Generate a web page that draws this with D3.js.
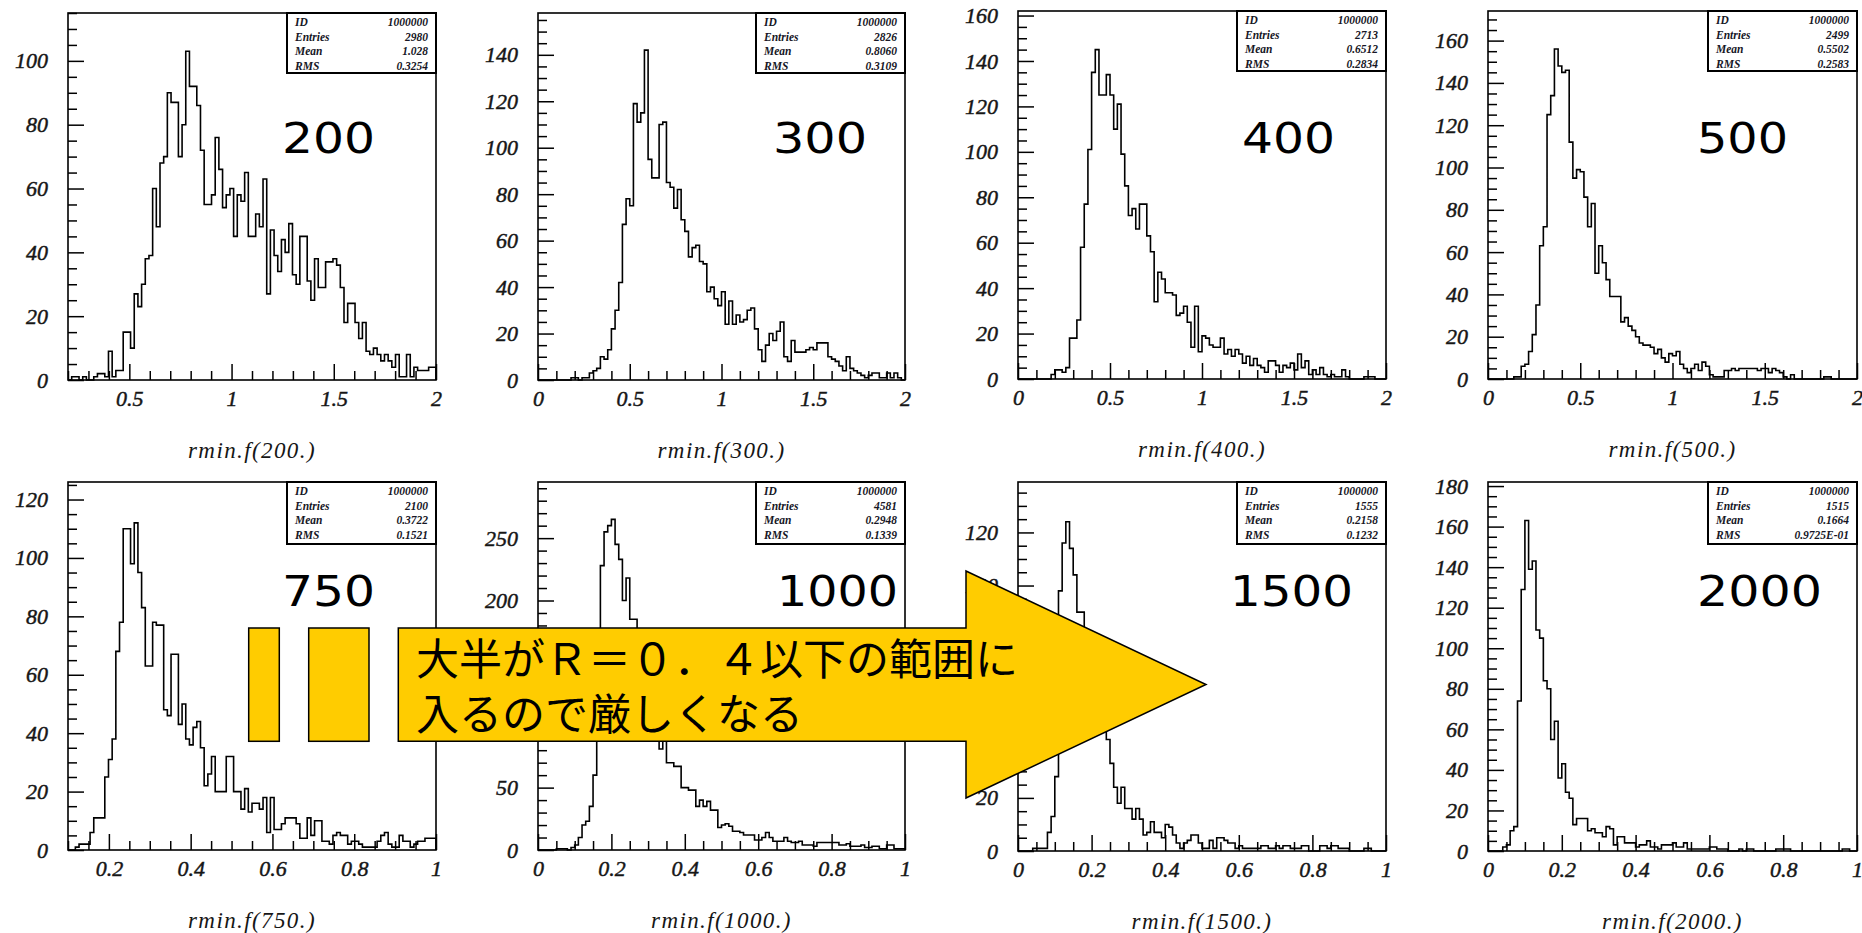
<!DOCTYPE html>
<html>
<head>
<meta charset="utf-8">
<script src="https://cdn.jsdelivr.net/npm/d3@7"></script>
<style>
  body { margin: 0; background: #fff; }
  .tick text { font-family: "Liberation Serif", serif; font-style: italic; font-size: 22px; fill: #161616; stroke: #161616; stroke-width: 0.45px; }
  .tick line { stroke: #000; stroke-width: 1.5; }
  .stat { font-family: "Liberation Serif", serif; font-style: italic; font-weight: bold; font-size: 11.5px; fill: #161625; }
  .title { font-family: "Liberation Serif", serif; font-style: italic; font-size: 23px; letter-spacing: 1.4px; fill: #161616; }
  .energy { font-family: "DejaVu Sans", sans-serif; font-size: 42px; fill: #000; }
  .note { font-family: "Noto Sans CJK JP", sans-serif; font-size: 43px; fill: #000; }
</style>
</head>
<body>
<div id="chart"></div>
<script>
const width = 1862;
const height = 933;

const energies = [200, 300, 400, 500, 750, 1000, 1500, 2000];
const xDomains = [[0.2, 2], [0, 2], [0, 2], [0, 2], [0.1, 1], [0, 1], [0, 1], [0, 1]];
const yMaxes = [115, 158, 162, 174, 126, 295, 139, 182];

const xTicks = [
    [0.5, 1, 1.5, 2], [0, 0.5, 1, 1.5, 2], [0, 0.5, 1, 1.5, 2], [0, 0.5, 1, 1.5, 2],
    [0.2, 0.4, 0.6, 0.8, 1], [0, 0.2, 0.4, 0.6, 0.8, 1], [0, 0.2, 0.4, 0.6, 0.8, 1], [0, 0.2, 0.4, 0.6, 0.8, 1]
];
const xMinorSteps = [0.1, 0.1, 0.1, 0.1, 0.05, 0.05, 0.05, 0.05];
const yTicks = [
    [0, 20, 40, 60, 80, 100],
    [0, 20, 40, 60, 80, 100, 120, 140],
    [0, 20, 40, 60, 80, 100, 120, 140, 160],
    [0, 20, 40, 60, 80, 100, 120, 140, 160],
    [0, 20, 40, 60, 80, 100, 120],
    [0, 50, 100, 150, 200, 250],
    [0, 20, 40, 60, 80, 100, 120],
    [0, 20, 40, 60, 80, 100, 120, 140, 160, 180]
];
const yMinorSteps = [5, 5, 5, 5, 5, 10, 5, 5];

const statIds = ["1000000", "1000000", "1000000", "1000000", "1000000", "1000000", "1000000", "1000000"];
const statEntries = ["2980", "2826", "2713", "2499", "2100", "4581", "1555", "1515"];
const statMeans = ["1.028", "0.8060", "0.6512", "0.5502", "0.3722", "0.2948", "0.2158", "0.1664"];
const statRms = ["0.3254", "0.3109", "0.2834", "0.2583", "0.1521", "0.1339", "0.1232", "0.9725E-01"];

const counts200 = [0,1,1,0,1,0,0,1,2,2, 1,9,1,3,3,15,15,10,27,23, 30,38,39,60,48,68,70,90,87,87,
    70,80,103,92,92,86,72,55,55,58, 76,66,54,58,60,45,58,56,65,45, 45,52,48,63,27,47,39,34,44,40,
    49,33,30,45,45,31,25,38,29,29, 37,37,38,36,29,18,24,24,18,13, 18,9,8,10,8,6,8,6,4,8,
    1,1,8,1,4,3,3,3,4,4];
const counts300 = [0,0,0,0,0,0,0,0,0,1, 1,0,1,1,3,4,5,10,9,13, 22,30,42,67,78,75,119,111,115,142,
    95,87,87,110,111,85,83,74,82,69, 64,53,57,58,51,50,38,40,35,32, 38,24,34,24,28,25,26,30,31,22,
    13,8,15,20,17,21,25,10,8,17, 12,12,12,13,14,13,16,16,16,10, 9,8,6,4,10,5,4,3,2,1,
    2,3,3,1,1,3,1,3,1,0];
const counts400 = [0,0,0,0,0,0,0,0,0,2, 4,4,3,5,18,18,26,58,77,101, 135,145,125,125,134,125,110,121,99,85,
    72,75,66,77,77,63,56,34,47,44, 38,38,37,28,29,32,25,14,32,12, 19,18,15,14,14,18,11,13,10,13,
    11,7,10,6,9,6,5,3,8,8, 6,3,6,5,7,4,11,5,8,2, 4,2,5,2,1,2,1,1,4,1,
    0,0,0,0,1,1,1,0,0,0];
const counts500 = [0,0,0,0,0,0,0,1,1,6, 7,13,21,35,63,72,125,134,156,148, 145,146,112,95,99,98,86,72,83,50,
    63,55,47,39,39,39,27,29,25,23, 20,17,16,16,15,12,14,10,8,12, 11,13,7,5,3,5,7,4,8,6,
    2,1,1,1,4,4,5,4,5,5, 5,5,5,4,5,5,3,5,4,3, 1,0,2,0,0,0,0,0,0,0,
    0,1,1,0,0,0,0,0,0,0];
const counts750 = [0,0,1,2,2,2,6,11,11,11, 25,31,38,68,78,110,110,98,112,95, 83,63,63,78,77,77,48,46,67,67,
    43,50,38,36,42,44,35,22,26,32, 20,20,20,32,32,20,20,14,21,13, 16,16,14,18,6,18,7,7,9,11,
    11,11,9,4,4,11,5,10,10,3, 3,2,5,6,5,5,2,3,3,2, 1,1,1,1,3,5,6,2,1,1,
    5,3,3,1,2,3,3,4,4,4];
const counts1000 = [0,0,0,0,0,1,1,1,0,2, 4,10,20,23,35,60,160,228,255,260, 265,245,233,200,218,185,185,170,150,130,
    120,100,90,81,95,70,70,67,67,50, 50,48,48,35,40,35,39,32,32,18, 20,21,19,15,15,14,12,12,12,8,
    8,10,14,10,7,7,7,10,7,6, 6,7,4,4,4,3,6,6,6,6, 6,6,4,4,5,3,3,3,4,2,
    2,3,3,1,1,4,4,1,1,1];
const counts1500 = [0,0,0,0,1,1,1,1,7,13, 28,98,116,124,114,104,90,90,80,72, 64,56,50,45,42,33,24,18,24,16,
    16,12,16,12,6,7,11,7,7,5, 10,9,6,3,1,3,4,6,6,3, 1,1,4,1,5,5,4,3,3,1,
    2,1,1,1,1,1,2,2,1,1, 2,1,2,2,1,1,1,2,2,0, 0,0,2,2,1,2,2,1,1,1,
    0,0,0,0,1,1,0,0,0,0];
const counts2000 = [0,0,0,0,2,3,10,12,74,129, 163,139,143,109,105,84,80,55,64,36, 43,29,26,13,16,16,16,10,11,9,
    9,7,12,11,3,7,7,4,4,4, 2,3,3,5,2,2,1,3,3,3, 4,2,2,4,1,1,1,1,1,1,
    2,2,1,1,1,0,0,0,1,0, 1,1,0,0,0,0,0,0,1,1, 1,1,0,0,0,0,0,0,0,0,
    0,0,0,0,0,0,1,1,0,0];
const counts = [counts200, counts300, counts400, counts500, counts750, counts1000, counts1500, counts2000];

const noteLines = ["大半がＲ＝０．４以下の範囲に", "入るので厳しくなる"];

// layout: plot frames [x, y, w, h] and the big energy labels [x, baseline, length]
const frames = [
    [68, 13, 368, 367], [538, 13, 367, 367], [1018, 11, 368, 368], [1488, 11, 369, 368],
    [68, 482, 368, 368], [538, 482, 367, 368], [1018, 482, 368, 369], [1488, 482, 369, 369]
];
const energyLabels = [
    [282, 153, 93], [773, 153, 94], [1242, 153, 93], [1697, 153, 91],
    [282, 606, 93], [777, 606, 121], [1230, 606, 123], [1697, 606, 125]
];

const svg = d3.select("#chart")
    .append("svg")
    .attr("width", width)
    .attr("height", height);

function stepRange(lo, hi, step) {
    const a = Math.ceil(lo / step - 1e-6), b = Math.floor(hi / step + 1e-6);
    return d3.range(a, b + 1).map(k => +(k * step).toFixed(4));
}

energies.forEach(function(energy, i) {
    const [fx, fy, fw, fh] = frames[i];
    const data = counts[i];
    const [x0, x1] = xDomains[i];
    const binW = (x1 - x0) / data.length;

    const x = d3.scaleLinear().domain(xDomains[i]).range([fx, fx + fw]);
    const y = d3.scaleLinear().domain([0, yMaxes[i]]).range([fy + fh, fy]);

    const g = svg.append("g");

    // minor ticks
    const yMinor = stepRange(0, yMaxes[i], yMinorSteps[i]).filter(v => !yTicks[i].includes(v));
    g.append("g")
        .attr("transform", `translate(${fx},0)`)
        .call(d3.axisLeft(y).tickValues(yMinor).tickSizeInner(-9).tickSizeOuter(0).tickFormat(""))
        .call(a => a.select(".domain").remove());
    const xMinor = stepRange(x0, x1, xMinorSteps[i]).filter(v => !xTicks[i].some(t => Math.abs(t - v) < 1e-6));
    g.append("g")
        .attr("transform", `translate(0,${fy + fh})`)
        .call(d3.axisBottom(x).tickValues(xMinor).tickSizeInner(-9).tickSizeOuter(0).tickFormat(""))
        .call(a => a.select(".domain").remove());

    // major ticks with labels
    g.append("g")
        .attr("transform", `translate(${fx},0)`)
        .call(d3.axisLeft(y).tickValues(yTicks[i]).tickSizeInner(-16).tickSizeOuter(0).tickPadding(20)
            .tickFormat(d3.format("d")))
        .call(a => a.select(".domain").remove());
    g.append("g")
        .attr("transform", `translate(0,${fy + fh})`)
        .call(d3.axisBottom(x).tickValues(xTicks[i]).tickSizeInner(-16).tickSizeOuter(0).tickPadding(10)
            .tickFormat(d => String(+d.toFixed(2))))
        .call(a => a.select(".domain").remove());

    // histogram outline
    const pts = [[x0, 0]];
    data.forEach((v, k) => pts.push([x0 + k * binW, v]));
    pts.push([x1, data[data.length - 1]]);
    pts.push([x1, 0]);
    const line = d3.line()
        .x(d => x(d[0]))
        .y(d => y(d[1]))
        .curve(d3.curveStepAfter);
    g.append("path")
        .attr("d", line(pts))
        .attr("fill", "none")
        .attr("stroke", "#000")
        .attr("stroke-width", 1.6);

    // frame
    g.append("rect")
        .attr("x", fx).attr("y", fy)
        .attr("width", fw).attr("height", fh)
        .attr("fill", "none")
        .attr("stroke", "#000")
        .attr("stroke-width", 1.6);

    // stats box
    const bw = 149, bh = i < 4 ? 60 : 62;
    const bx = fx + fw - bw;
    g.append("rect")
        .attr("x", bx).attr("y", fy)
        .attr("width", bw).attr("height", bh)
        .attr("fill", "#fff")
        .attr("stroke", "#000")
        .attr("stroke-width", 2);
    const rows = [["ID", statIds[i]], ["Entries", statEntries[i]], ["Mean", statMeans[i]], ["RMS", statRms[i]]];
    rows.forEach(function(r, k) {
        const ty = fy + 13 + k * 14.5;
        g.append("text").attr("class", "stat").attr("x", bx + 8).attr("y", ty).text(r[0]);
        g.append("text").attr("class", "stat").attr("x", bx + bw - 8).attr("y", ty)
            .attr("text-anchor", "end").text(r[1]);
    });

    // axis title
    g.append("text")
        .attr("class", "title")
        .attr("x", fx + fw / 2)
        .attr("y", fy + fh + 78)
        .attr("text-anchor", "middle")
        .text(`rmin.f(${energy}.)`);

    // big energy label
    const [lx, ly, ll] = energyLabels[i];
    g.append("text")
        .attr("class", "energy")
        .attr("x", lx).attr("y", ly)
        .attr("textLength", ll)
        .attr("lengthAdjust", "spacingAndGlyphs")
        .text(energy);
});

// yellow annotation
const note = svg.append("g")
    .attr("fill", "#ffcc00")
    .attr("stroke", "#000")
    .attr("stroke-width", 1.5);
note.append("rect").attr("x", 248.7).attr("y", 628).attr("width", 30.6).attr("height", 113.3);
note.append("rect").attr("x", 308.7).attr("y", 628).attr("width", 60.3).attr("height", 113.3);
note.append("polygon")
    .attr("points", [[398.3, 628], [966, 628], [966, 571], [1206, 684.5], [966, 798], [966, 741.3], [398.3, 741.3]]
        .map(p => p.join(",")).join(" "));

noteLines.forEach(function(t, k) {
    svg.append("text")
        .attr("class", "note")
        .attr("x", 416)
        .attr("y", 675 + k * 55)
        .text(t);
});
</script>
</body>
</html>
